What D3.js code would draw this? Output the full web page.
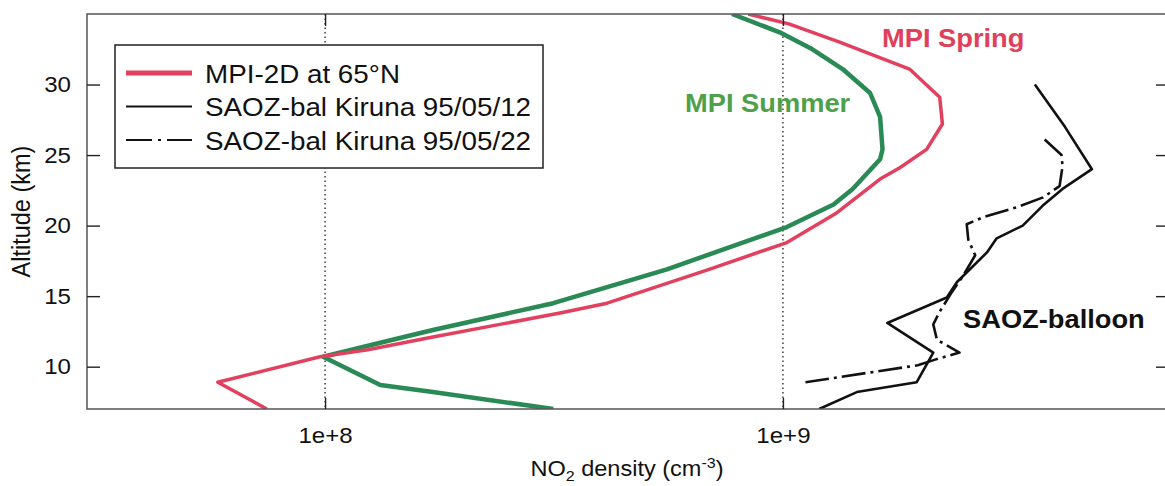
<!DOCTYPE html>
<html>
<head>
<meta charset="utf-8">
<script src="https://cdn.jsdelivr.net/npm/d3@7"></script>
<style>
  body { margin: 0; background: #fff; }
  svg { display: block; font-family: "Liberation Sans", Arial, Helvetica, sans-serif; }
</style>
</head>
<body>
<div class="chart"></div>
<script>
// NO2 profiles: altitude (km) and number density (cm-3)
var springAlt = [35.0, 34.3, 33.0, 31.1, 29.1, 27.2, 25.4, 24.1, 23.3, 20.9, 18.8, 16.9, 14.5, 13.8, 13.0, 12.1, 11.2, 10.7, 8.9, 7.0];
var springNO2 = [8.4e8, 1.03e9, 1.33e9, 1.89e9, 2.20e9, 2.23e9, 2.06e9, 1.80e9, 1.63e9, 1.31e9, 1.02e9, 6.9e8, 4.13e8, 3.26e8, 2.41e8, 1.72e8, 1.24e8, 9.75e7, 5.83e7, 7.46e7];

var summerAlt = [35.0, 33.7, 32.5, 31.1, 29.4, 27.7, 25.4, 24.7, 22.6, 21.5, 19.9, 16.9, 14.5, 12.6, 11.7, 10.7, 8.7, 8.2, 7.0];
var summerNO2 = [7.74e8, 9.84e8, 1.16e9, 1.35e9, 1.55e9, 1.63e9, 1.65e9, 1.63e9, 1.42e9, 1.29e9, 1.02e9, 5.58e8, 3.15e8, 1.72e8, 1.32e8, 9.9e7, 1.32e8, 1.72e8, 3.15e8];

var saoz12Alt = [30.0, 27.0, 24.0, 22.6, 21.4, 20.0, 19.1, 18.1, 16.0, 14.9, 13.1, 11.0, 8.9, 8.2, 7.0];
var saoz12NO2 = [3.55e9, 4.13e9, 4.73e9, 4.08e9, 3.69e9, 3.34e9, 2.93e9, 2.79e9, 2.40e9, 2.28e9, 1.69e9, 2.13e9, 1.96e9, 1.45e9, 1.20e9];

var saoz22Alt = [26.1, 25.0, 24.2, 22.8, 22.0, 21.3, 20.6, 20.1, 19.0, 17.9, 16.4, 15.3, 13.9, 13.0, 11.9, 11.0, 10.5, 10.1, 8.9];
var saoz22NO2 = [3.73e9, 4.06e9, 4.08e9, 4.02e9, 3.70e9, 3.24e9, 2.74e9, 2.52e9, 2.54e9, 2.63e9, 2.47e9, 2.34e9, 2.20e9, 2.13e9, 2.17e9, 2.43e9, 2.15e9, 1.97e9, 1.12e9];

var xTicks = [1e8, 1e9];
var yTicks = [10, 15, 20, 25, 30];
var legendLabels = ["MPI-2D at 65°N", "SAOZ-bal Kiruna 95/05/12", "SAOZ-bal Kiruna 95/05/22"];

var svgWidth = 1165;
var svgHeight = 486;
var margin = {top: 14, right: -2, bottom: 77, left: 87};
var width = svgWidth - margin.left - margin.right;
var height = svgHeight - margin.top - margin.bottom;

var red = "#e2405f";
var green = "#2a8a55";
var stretch = "scale(1.07,1)";

var svg = d3.select(".chart")
  .append("svg")
  .attr("width", svgWidth)
  .attr("height", svgHeight);

var chartGroup = svg.append("g").attr("transform", `translate(${margin.left}, ${margin.top})`);

var xScale = d3.scaleLog().domain([3.02e7, 6.9e9]).range([0, width]);
var yScale = d3.scaleLinear().domain([7, 35]).range([height, 0]);

svg.append("defs").append("clipPath").attr("id", "plot-clip")
  .append("rect").attr("width", width).attr("height", height);

// dotted decade lines
chartGroup.selectAll(".grid")
  .data(xTicks)
  .enter()
  .append("line")
  .attr("class", "grid")
  .attr("x1", d => xScale(d))
  .attr("x2", d => xScale(d))
  .attr("y1", 0)
  .attr("y2", height)
  .attr("stroke", "#222")
  .attr("stroke-width", 1.3)
  .attr("stroke-dasharray", "1.5,3");

function zip(alt, val) {
  return alt.map((a, i) => [a, val[i]]);
}

var line = d3.line()
  .x(d => xScale(d[1]))
  .y(d => yScale(d[0]));

var series = [
  {data: zip(summerAlt, summerNO2), color: green, w: 4.5, dash: null},
  {data: zip(springAlt, springNO2), color: red, w: 3.5, dash: null},
  {data: zip(saoz12Alt, saoz12NO2), color: "#111", w: 2.6, dash: null},
  {data: zip(saoz22Alt, saoz22NO2), color: "#111", w: 2.6, dash: "24,5,3,5"}
];

var plot = chartGroup.append("g").attr("clip-path", "url(#plot-clip)");
plot.selectAll(".profile")
  .data(series)
  .enter()
  .append("path")
  .attr("class", "profile")
  .attr("d", d => line(d.data))
  .attr("fill", "none")
  .attr("stroke", d => d.color)
  .attr("stroke-width", d => d.w)
  .attr("stroke-dasharray", d => d.dash)
  .attr("stroke-linejoin", "round");

// annotations
function label(parent, x, y, text, size, weight, color) {
  return parent.append("text")
    .attr("transform", `translate(${x},${y}) ${stretch}`)
    .attr("font-size", size)
    .attr("font-weight", weight)
    .attr("fill", color)
    .text(text);
}
label(chartGroup, 795, 33, "MPI Spring", 25.5, "bold", "#e0405a");
label(chartGroup, 598, 98, "MPI Summer", 25.5, "bold", "#4fa04a");
label(chartGroup, 876, 314, "SAOZ-balloon", 25.5, "bold", "#111");

// legend
var legend = chartGroup.append("g").attr("transform", "translate(28, 31)");
legend.append("rect")
  .attr("width", 428)
  .attr("height", 123)
  .attr("fill", "#fff")
  .attr("stroke", "#222")
  .attr("stroke-width", 1.5);

var legendStyles = [
  {color: red, w: 5, dash: null},
  {color: "#111", w: 2, dash: null},
  {color: "#111", w: 2, dash: "26,6,3,6"}
];
var rows = legend.selectAll(".row")
  .data(legendLabels)
  .enter()
  .append("g")
  .attr("class", "row")
  .attr("transform", (d, i) => `translate(0, ${28 + i * 33.5})`);

rows.append("line")
  .attr("x1", 11)
  .attr("x2", 77)
  .attr("stroke", (d, i) => legendStyles[i].color)
  .attr("stroke-width", (d, i) => legendStyles[i].w)
  .attr("stroke-dasharray", (d, i) => legendStyles[i].dash);

rows.append("text")
  .attr("transform", `translate(90, 9.5) ${stretch}`)
  .attr("font-size", 26)
  .attr("fill", "#111")
  .text(d => d);

// frame and inward ticks
chartGroup.append("rect")
  .attr("width", width)
  .attr("height", height)
  .attr("fill", "none")
  .attr("stroke", "#555")
  .attr("stroke-width", 1.5);

var leftAxis = d3.axisLeft(yScale).tickValues(yTicks).tickSizeInner(-13).tickSizeOuter(0).tickPadding(15);
var rightAxis = d3.axisRight(yScale).tickValues(yTicks).tickSizeInner(-11).tickSizeOuter(0).tickFormat("");
var bottomAxis = d3.axisBottom(xScale).tickValues(xTicks).tickSizeInner(-11).tickSizeOuter(0).tickPadding(18)
  .tickFormat(d => "1e+" + Math.round(Math.log10(d)));
var topAxis = d3.axisTop(xScale).tickValues(xTicks).tickSizeInner(-12).tickSizeOuter(0).tickFormat("");

var axes = [
  chartGroup.append("g").call(leftAxis),
  chartGroup.append("g").attr("transform", `translate(${width}, 0)`).call(rightAxis),
  chartGroup.append("g").attr("transform", `translate(0, ${height})`).call(bottomAxis),
  chartGroup.append("g").call(topAxis)
];
axes.forEach(function(g) {
  g.select(".domain").remove();
  g.selectAll(".tick line").attr("stroke", "#222").attr("stroke-width", 1.4);
  g.selectAll(".tick text")
    .attr("font-size", 22.5)
    .attr("font-family", "Liberation Sans, Arial, sans-serif")
    .attr("fill", "#111")
    .attr("transform", stretch);
});

// axis titles
var xTitle = chartGroup.append("text")
  .attr("transform", `translate(${width / 2}, ${height + 67}) ${stretch}`)
  .attr("text-anchor", "middle")
  .attr("font-size", 22)
  .attr("fill", "#111");
xTitle.append("tspan").text("NO");
xTitle.append("tspan").attr("font-size", 15).attr("dy", 5).text("2");
xTitle.append("tspan").attr("dy", -5).text(" density (cm");
xTitle.append("tspan").attr("font-size", 15).attr("dy", -8).text("-3");
xTitle.append("tspan").attr("dy", 8).text(")");

chartGroup.append("text")
  .attr("transform", `translate(-57, ${height / 2}) ${stretch} rotate(-90)`)
  .attr("text-anchor", "middle")
  .attr("font-size", 23.5)
  .attr("fill", "#111")
  .text("Altitude (km)");
</script>
</body>
</html>
